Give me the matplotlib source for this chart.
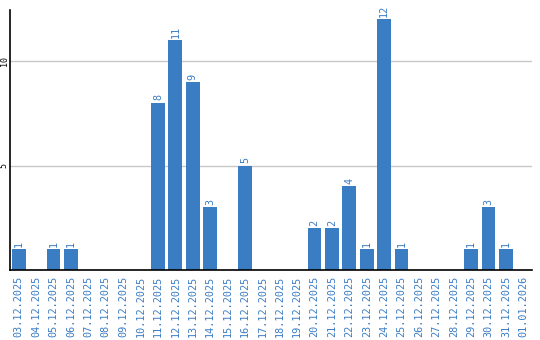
import matplotlib
matplotlib.use("Agg")
import matplotlib.pyplot as plt
import numpy as np

dates = ["03.12.2025", "04.12.2025", "05.12.2025", "06.12.2025", "07.12.2025",
         "08.12.2025", "09.12.2025", "10.12.2025", "11.12.2025", "12.12.2025",
         "13.12.2025", "14.12.2025", "15.12.2025", "16.12.2025", "17.12.2025",
         "18.12.2025", "19.12.2025", "20.12.2025", "21.12.2025", "22.12.2025",
         "23.12.2025", "24.12.2025", "25.12.2025", "26.12.2025", "27.12.2025",
         "28.12.2025", "29.12.2025", "30.12.2025", "31.12.2025", "01.01.2026"]
values = [1, 0, 1, 1, 0, 0, 0, 0, 8, 11, 9, 3, 0, 5, 0, 0, 0, 2, 2, 4, 1, 12, 1,
          0, 0, 0, 1, 3, 1, 0]
yticks = [5, 10]

bar_color = "#3b7dc3"
label_color = "#3a7cc4"

fig = plt.figure(figsize=(5.4, 3.4), dpi=100)
ax = fig.add_axes([10/540, 70/340, 522/540, 260/340])

x = np.arange(len(dates))
ax.bar(x, values, width=0.8, color=bar_color, zorder=2)
for xi, v in zip(x, values):
    if v > 0:
        ax.text(xi, v + 0.12, str(v), rotation=90, ha="center", va="bottom",
                color=label_color, fontsize=7.3, family="DejaVu Sans Mono")

ax.set_xlim(-0.5, len(dates) - 0.5)
ax.set_ylim(0, 12.45)
ax.set_xticks(x)
ax.set_xticklabels(dates, rotation=90, color=label_color, fontsize=7.3,
                   family="DejaVu Sans Mono")
ax.set_yticks(yticks)
ax.set_yticklabels([str(t) for t in yticks], rotation=90, fontsize=6,
                   family="DejaVu Sans Mono", va="center")
ax.tick_params(axis="x", length=0, pad=4)
ax.tick_params(axis="y", length=0, pad=1)
ax.grid(axis="y", color="#c8c8c8", linewidth=1, zorder=0)
for s in ["top", "right"]:
    ax.spines[s].set_visible(False)
ax.spines["left"].set_linewidth(1.2)
ax.spines["bottom"].set_linewidth(1.2)

fig.savefig("out.png", dpi=100)
